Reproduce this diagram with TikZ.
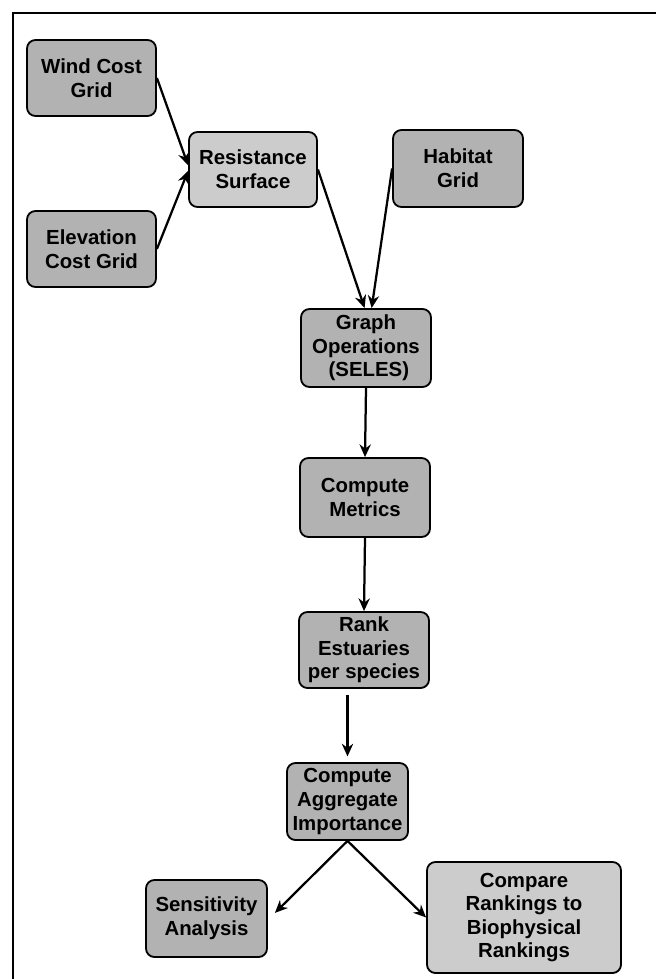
\documentclass[tikz,border=0pt]{standalone}
\usepackage{fontspec}
\setmainfont{Liberation Sans}
\usepackage{xcolor}
\usepackage{tikz}
\usetikzlibrary{shapes.geometric, arrows.meta}

\begin{document}
\begin{tikzpicture}[x=0.025cm, y=-0.025cm]

% Defined styles
\tikzstyle{gridbox} = [rectangle, rounded corners=6pt, inner sep=2pt, align=center, draw=black, line width=1.3pt, fill=black!30, font=\fontsize{14.5}{16.8}\selectfont\bfseries]
\tikzstyle{litebox} = [gridbox, fill=black!20]
\tikzstyle{arrow} = [line width=1.6pt, -{Stealth[length=9pt, width=8pt]}]

\useasboundingbox (0,0) rectangle (656,979);

% --- Frame (top and left edges only) ---
\draw[line width=1pt] (656,13) -- (13,13) -- (13,979);

% --- Inputs ---
\node (wind) [gridbox, minimum width=129*0.025cm, minimum height=76*0.025cm] at (91.5,78) {Wind Cost\\Grid};
\node (elev) [gridbox, minimum width=129*0.025cm, minimum height=76*0.025cm] at (91.5,249) {Elevation\\Cost Grid};
\node (resist) [litebox, minimum width=128*0.025cm, minimum height=75*0.025cm] at (253,169.5) {Resistance\\Surface};
\node (habitat) [gridbox, minimum width=130*0.025cm, minimum height=77*0.025cm] at (458,168.5) {Habitat\\Grid};

% --- Main column ---
\node (graph) [gridbox, minimum width=130*0.025cm, minimum height=78*0.025cm] at (366,348) {Graph\\Operations\\ \ (SELES)};
\node (metrics) [gridbox, minimum width=130*0.025cm, minimum height=79*0.025cm] at (365,497.5) {Compute\\Metrics};
\node (rank) [gridbox, minimum width=130*0.025cm, minimum height=76*0.025cm] at (364,650) {Rank\\Estuaries\\per species};
\node (agg) [gridbox, minimum width=121*0.025cm, minimum height=77*0.025cm] at (347.5,801.5) {Compute\\Aggregate\\Importance};

% --- Outputs ---
\node (sens) [gridbox, minimum width=121*0.025cm, minimum height=77*0.025cm] at (206.5,918.5) {Sensitivity\\Analysis};
\node (compare) [litebox, minimum width=194*0.025cm, minimum height=111*0.025cm] at (524,917.5) {Compare\\Rankings to\\Biophysical\\Rankings};

% --- Arrows ---
\draw [arrow] (wind.east) -- ([yshift=3pt]resist.west);
\draw [arrow] (elev.east) -- ([yshift=-1pt]resist.west);
\draw [arrow] (resist.east) -- ([xshift=-1pt]graph.north);
\draw [arrow] (habitat.west) -- ([xshift=4pt]graph.north);
\draw [arrow] (graph.south) -- (metrics.north);
\draw [arrow] (metrics.south) -- (rank.north);
\draw [arrow, shorten <=4pt, shorten >=4pt] (rank.south -| agg.north) -- (agg.north);
\draw [arrow] (agg.south) -- ([xshift=5pt, yshift=4pt]sens.east);
\draw [arrow] (agg.south) -- (compare.west);

\end{tikzpicture}
\end{document}
